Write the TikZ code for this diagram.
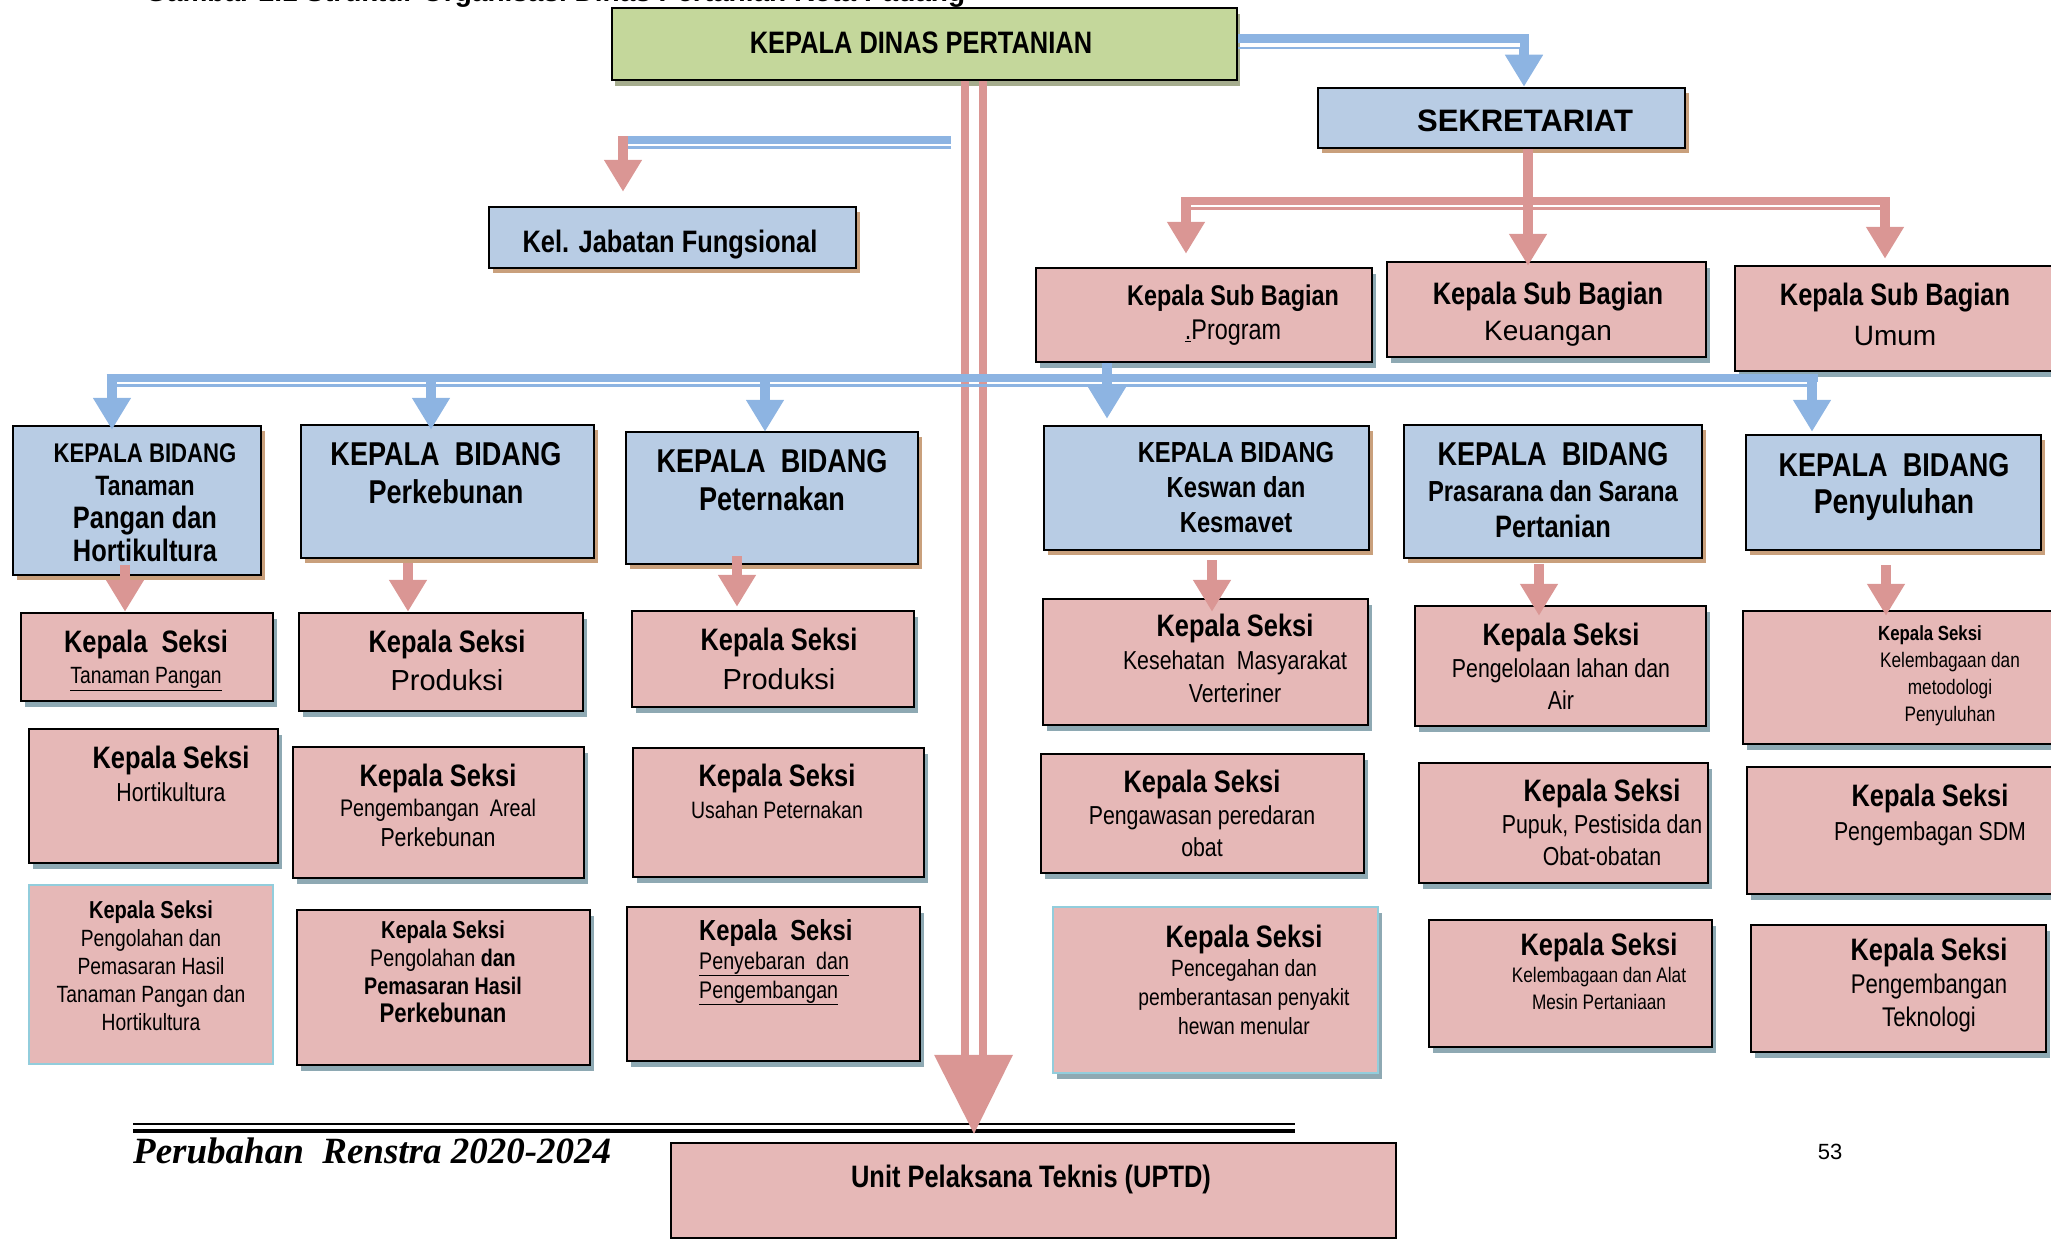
\documentclass[tikz,border=0pt]{standalone}
\usepackage{fontspec}
\setmainfont{Liberation Sans}[FakeStretch=0.82]
\newfontfamily\lebar{Liberation Sans}
\newfontfamily\huruftimes{Liberation Serif}
\usetikzlibrary{arrows.meta,shadows}
\definecolor{hijau}{HTML}{C4D79B}
\definecolor{birumuda}{HTML}{B8CCE4}
\definecolor{merahmuda}{HTML}{E6B8B7}
\definecolor{panahbiru}{HTML}{8DB4E2}
\definecolor{panahmerah}{HTML}{DA9694}
\definecolor{bayanghijau}{HTML}{A5AC8D}
\definecolor{bayangcoklat}{HTML}{C9A07C}
\definecolor{bayangabu}{HTML}{8EA9B3}
\definecolor{garisbiru}{HTML}{92CDDC}
\newcommand{\uk}[2]{\fontsize{#1}{#2}\selectfont}
\begin{document}
\begin{tikzpicture}[x=1pt, y=-1pt,
  ukuran/.style 2 args={minimum width=#1pt, minimum height=#2pt},
  kotak/.style={draw=black, line width=2.5pt, inner sep=0pt},
  kepala/.style={kotak, fill=hijau, drop shadow={shadow xshift=3pt, shadow yshift=-6pt, opacity=1, fill=bayanghijau}},
  bidang/.style={kotak, fill=birumuda, drop shadow={shadow xshift=4pt, shadow yshift=-5pt, opacity=1, fill=bayangcoklat}},
  seksi/.style={kotak, fill=merahmuda, drop shadow={shadow xshift=4pt, shadow yshift=-6pt, opacity=1, fill=bayangabu}},
  teks/.style={anchor=north, align=center, inner sep=0pt},
  tebalB/.style={draw=panahbiru, line width=8pt},
  tipisB/.style={draw=panahbiru, line width=2.5pt},
  tebalM/.style={draw=panahmerah, line width=8pt},
  tipisM/.style={draw=panahmerah, line width=2.5pt},
  panahB/.style={draw=panahbiru, line width=10pt, -{Triangle[width=36pt,length=32pt]}},
  panahM/.style={draw=panahmerah, line width=10pt, -{Triangle[width=36pt,length=32pt]}}]
\useasboundingbox (0,0) rectangle (2051,1239);

\node[anchor=base west, inner sep=0pt] (judul) at (145,1.5) {\lebar\bfseries\uk{28}{28}Gambar 2.1 Struktur Organisasi Dinas Pertanian Kota Padang};

\node[kepala, ukuran={625}{72}] (kd) at (924.5,44) {};
\node[bidang, ukuran={367}{60}] (sek) at (1501.5,118) {};
\node[bidang, ukuran={367}{61}] (kel) at (672.5,237.5) {};
\node[seksi, ukuran={336}{94}] (sbProg) at (1204,315) {};
\node[seksi, ukuran={319}{95}] (sbKeu) at (1546.5,309.5) {};
\node[seksi, ukuran={335}{105}] (sbUmum) at (1902.5,318.5) {};

\node[bidang, ukuran={248}{149}] (kbTan) at (137,500.5) {};
\node[bidang, ukuran={293}{133}] (kbKebun) at (447.5,491.5) {};
\node[bidang, ukuran={292}{132}] (kbTernak) at (772,498) {};
\node[bidang, ukuran={325}{124}] (kbKeswan) at (1206.5,488) {};
\node[bidang, ukuran={298}{133}] (kbPras) at (1553,491.5) {};
\node[bidang, ukuran={295}{115}] (kbSuluh) at (1893.5,492.5) {};

\node[seksi, ukuran={252}{88}] (sTP) at (147,657) {};
\node[seksi, ukuran={249}{134}] (sHort) at (153.5,796) {};
\node[kotak, fill=merahmuda, draw=garisbiru, ukuran={244}{179}] (sOlah) at (151,974.5) {};
\node[seksi, ukuran={284}{98}] (sProdK) at (441,662) {};
\node[seksi, ukuran={291}{131}] (sAreal) at (438.5,812.5) {};
\node[seksi, ukuran={293}{155}] (sOlahK) at (443.5,987.5) {};
\node[seksi, ukuran={282}{96}] (sProdP) at (773,659) {};
\node[seksi, ukuran={291}{129}] (sUsaha) at (778.5,812.5) {};
\node[seksi, ukuran={293}{154}] (sSebar) at (773.5,984) {};
\node[seksi, ukuran={325}{126}] (sSehat) at (1205.5,662) {};
\node[seksi, ukuran={323}{119}] (sAwas) at (1202.5,813.5) {};
\node[seksi, draw=garisbiru, ukuran={325}{166}] (sCegah) at (1215.5,990) {};
\node[seksi, ukuran={291}{120}] (sLahan) at (1560.5,666) {};
\node[seksi, ukuran={289}{120}] (sPupuk) at (1563.5,823) {};
\node[seksi, ukuran={283}{127}] (sAlat) at (1570.5,983.5) {};
\node[seksi, ukuran={317}{133}] (sMetod) at (1901.5,677.5) {};
\node[seksi, ukuran={313}{127}] (sSDM) at (1903.5,830.5) {};
\node[seksi, ukuran={295}{127}] (sTekno) at (1898.5,988.5) {};
\node[kotak, fill=merahmuda, ukuran={725}{95}] (uptd) at (1033.5,1190.5) {};

\node[teks, font=\uk{31}{31}\bfseries] (kd-t) at (921,32) {KEPALA DINAS PERTANIAN};
\node[teks, font=\lebar\uk{31}{31}\bfseries] (sek-t) at (1525,110) {SEKRETARIAT};
\node[teks, font=\uk{31}{31}\bfseries] (kel-t) at (670,230) {Kel. Jabatan Fungsional};
\node[teks, font=\uk{28.5}{34}] (sbProg-t) at (1233,285) {\bfseries Kepala Sub Bagian\\ \mdseries\underline{.}Program};
\node[teks, font=\uk{31}{36}] (sbKeu-t) at (1548,282) {\bfseries Kepala Sub Bagian\\ \lebar\mdseries\uk{28}{36}Keuangan};
\node[teks, font=\uk{31}{40}] (sbUmum-t) at (1895,283) {\bfseries Kepala Sub Bagian\\ \lebar\mdseries\uk{28}{40}Umum};

\node[teks, font=\uk{27}{33}\bfseries] (kbTan-t) at (145,443) {KEPALA BIDANG\\ \bfseries\uk{28}{33}Tanaman\\ \bfseries\uk{31}{33}Pangan dan\\ \bfseries\uk{31}{33}Hortikultura};
\node[teks, font=\uk{33}{38}\bfseries] (kbKebun-t) at (446,442) {KEPALA\ \ BIDANG\\ \bfseries Perkebunan};
\node[teks, font=\uk{33}{38}\bfseries] (kbTernak-t) at (772,449) {KEPALA\ \ BIDANG\\ \bfseries Peternakan};
\node[teks, font=\uk{29}{35}\bfseries] (kbKeswan-t) at (1236,442) {KEPALA BIDANG\\ \bfseries Keswan dan\\ \bfseries Kesmavet};
\node[teks, font=\uk{33}{36}\bfseries] (kbPras-t) at (1553,442) {KEPALA\ \ BIDANG\\ \bfseries\uk{29}{36}Prasarana dan Sarana\\ \bfseries\uk{31}{36}Pertanian};
\node[teks, font=\uk{33}{37}\bfseries] (kbSuluh-t) at (1894,453) {KEPALA\ \ BIDANG\\ \bfseries\uk{34.5}{37}Penyuluhan};

\node[teks, font=\uk{31}{31}] (sTP-t) at (146,630) {\bfseries Kepala\ \ Seksi\\ \mdseries\uk{23.5}{31}\underline{Tanaman Pangan}};
\node[teks, font=\uk{31}{33}] (sHort-t) at (171,746) {\bfseries Kepala Seksi\\ \mdseries\uk{26}{33}Hortikultura};
\node[teks, font=\uk{24.5}{28}] (sOlah-t) at (151,901) {\bfseries Kepala Seksi\\ \mdseries\uk{23.5}{28}Pengolahan dan\\ \mdseries\uk{23.5}{28}Pemasaran Hasil\\ \mdseries\uk{23.5}{28}Tanaman Pangan dan\\ \mdseries\uk{23.5}{28}Hortikultura};
\node[teks, font=\uk{31}{38}] (sProdK-t) at (447,630) {\bfseries Kepala Seksi\\ \lebar\mdseries\uk{29}{38}Produksi};
\node[teks, font=\uk{31}{30}] (sAreal-t) at (438,764) {\bfseries Kepala Seksi\\ \mdseries\uk{24}{30}Pengembangan\ \ Areal\\ \mdseries\uk{26}{30}Perkebunan};
\node[teks, font=\uk{24.5}{28}] (sOlahK-t) at (443,921) {\bfseries Kepala Seksi\\ \mdseries\uk{24}{28}Pengolahan \bfseries dan\\ \bfseries\uk{24}{28}Pemasaran Hasil\\ \bfseries\uk{27}{28}Perkebunan};
\node[teks, font=\uk{31}{39}] (sProdP-t) at (779,628) {\bfseries Kepala Seksi\\ \lebar\mdseries\uk{29}{39}Produksi};
\node[teks, font=\uk{31}{32}] (sUsaha-t) at (777,764) {\bfseries Kepala Seksi\\ \mdseries\uk{23.7}{32}Usahan Peternakan};
\node[teks, anchor=north west, align=left, font=\uk{29}{29}] (sSebar-t) at (699,919) {\bfseries Kepala\ \ Seksi\\ \mdseries\uk{24}{29}\underline{Penyebaran\ \ dan}\\ \mdseries\uk{24}{29}\underline{Pengembangan}};
\node[teks, font=\uk{31}{33}] (sSehat-t) at (1235,614) {\bfseries Kepala Seksi\\ \mdseries\uk{26}{33}Kesehatan\ \ Masyarakat\\ \mdseries\uk{26}{33}Verteriner};
\node[teks, font=\uk{31}{32}] (sAwas-t) at (1202,770) {\bfseries Kepala Seksi\\ \mdseries\uk{26}{32}Pengawasan peredaran\\ \mdseries\uk{26}{32}obat};
\node[teks, font=\uk{31}{29}] (sCegah-t) at (1244,925) {\bfseries Kepala Seksi\\ \mdseries\uk{23.5}{29}Pencegahan dan\\ \mdseries\uk{23.5}{29}pemberantasan penyakit\\ \mdseries\uk{23.5}{29}hewan menular};
\node[teks, font=\uk{31}{32}] (sLahan-t) at (1561,623) {\bfseries Kepala Seksi\\ \mdseries\uk{26}{32}Pengelolaan lahan dan\\ \mdseries\uk{26}{32}Air};
\node[teks, font=\uk{31}{32}] (sPupuk-t) at (1602,779) {\bfseries Kepala Seksi\\ \mdseries\uk{26}{32}Pupuk, Pestisida dan\\ \mdseries\uk{26}{32}Obat-obatan};
\node[teks, font=\uk{31}{27}] (sAlat-t) at (1599,933) {\bfseries Kepala Seksi\\ \mdseries\uk{21}{27}Kelembagaan dan Alat\\ \mdseries\uk{21}{27}Mesin Pertaniaan};
\node[teks, font=\uk{20.5}{27}] (sMetod-t) at (1950,625) {\bfseries Kepala Seksi\hspace*{40pt}\\ \mdseries\uk{21}{27}Kelembagaan dan\\ \mdseries\uk{21}{27}metodologi\\ \mdseries\uk{21}{27}Penyuluhan};
\node[teks, font=\uk{31}{34}] (sSDM-t) at (1930,784) {\bfseries Kepala Seksi\\ \mdseries\uk{26}{34}Pengembagan SDM};
\node[teks, font=\uk{31}{33}] (sTekno-t) at (1929,938) {\bfseries Kepala Seksi\\ \mdseries\uk{27}{33}Pengembangan\\ \mdseries\uk{27}{33}Teknologi};
\node[teks, font=\uk{31}{31}\bfseries] (uptd-t) at (1031,1165) {Unit Pelaksana Teknis (UPTD)};

\draw[line width=2pt] (133,1124) -- (1295,1124);
\draw[line width=4.5pt] (133,1131) -- (1295,1131);
\node[anchor=base west, inner sep=0pt] (kaki) at (133,1163) {\huruftimes\bfseries\itshape\uk{37}{37}Perubahan\ \ Renstra 2020-2024};
\node[anchor=base, inner sep=0pt] (hal) at (1830,1159) {\lebar\uk{22}{22}53};

\draw[tipisB] ([yshift=-4pt]kd.east) -| ([xshift=19pt,yshift=30pt]sek.north);
\draw[panahB, line width=9pt] ([yshift=5pt]kd.east) -| ([xshift=22.5pt]sek.north);

\draw[panahmerah, line width=8pt] ([xshift=40.5pt]kd.south) -- ([xshift=-68.5pt,yshift=87pt]uptd.north);
\draw[panahmerah, line width=8pt] ([xshift=58.5pt]kd.south) -- ([xshift=-50.5pt,yshift=87pt]uptd.north);
\fill[panahmerah] ([xshift=-99.5pt,yshift=87pt]uptd.north) -- ([xshift=-20.5pt,yshift=87pt]uptd.north) -- ([xshift=-59.5pt,yshift=8pt]uptd.north) -- cycle;

\coordinate (cabang) at (951,140);
\coordinate (siku) at (623,140);
\draw[tebalB] (cabang) -- ([xshift=5pt]siku);
\draw[tipisB] ([yshift=-7.5pt]cabang) -- ([xshift=5pt,yshift=-7.5pt]siku);
\draw[panahM] ([yshift=4pt]siku) -- ([xshift=-49.5pt,yshift=14pt]kel.north);

\coordinate (sbKiri) at (1186,201);
\coordinate (sbKanan) at (1885,201);
\draw[tebalM] ([xshift=-5pt]sbKiri) -- ([xshift=5pt]sbKanan);
\draw[tipisM] ([xshift=5pt,yshift=-7.5pt]sbKiri) -- ([xshift=-5pt,yshift=-7.5pt]sbKanan);
\draw[panahM] (sbKiri) -- ([xshift=-18pt,yshift=13pt]sbProg.north);
\draw[panahM] (sbKanan) -- ([xshift=-17.5pt,yshift=6pt]sbUmum.north);
\draw[panahM] ([xshift=26.5pt]sek.south) -- ([xshift=-18.5pt,yshift=-5pt]sbKeu.north);

\coordinate (b1) at (112,378);
\coordinate (b2) at (431,378);
\coordinate (b3) at (765,378);
\coordinate (b5) at (1812,378);
\draw[tebalB] ([xshift=-5.5pt]b1) -- ([xshift=6pt]b5);
\draw[tipisB] ([xshift=5pt,yshift=-7.5pt]b1) -- ([xshift=-5pt,yshift=-7.5pt]b5);
\draw[panahB] (b1) -- ([xshift=-25pt,yshift=-5pt]kbTan.north);
\draw[panahB] (b2) -- ([xshift=-16.5pt,yshift=-6pt]kbKebun.north);
\draw[panahB] (b3) -- ([xshift=-7pt,yshift=-1pt]kbTernak.north);
\draw[panahB] ([xshift=-97pt]sbProg.south) -- ([xshift=-99.5pt,yshift=6pt]kbKeswan.north);
\draw[panahB] (b5) -- ([xshift=-81.5pt,yshift=2pt]kbSuluh.north);

\draw[panahM] ([xshift=-12pt,yshift=11pt]kbTan.south) -- ([xshift=-22pt]sTP.north);
\draw[panahM] ([xshift=-39.5pt,yshift=-4pt]kbKebun.south) -- ([xshift=-33pt]sProdK.north);
\draw[panahM] ([xshift=-35pt,yshift=9pt]kbTernak.south) -- ([xshift=-36pt,yshift=3pt]sProdP.north);
\draw[panahM] ([xshift=5.5pt,yshift=-9pt]kbKeswan.south) -- ([xshift=6.5pt,yshift=-14pt]sSehat.north);
\draw[panahM] ([xshift=-14pt,yshift=-5pt]kbPras.south) -- ([xshift=-21.5pt,yshift=-11pt]sLahan.north);
\draw[panahM] ([xshift=-7.5pt,yshift=-14pt]kbSuluh.south) -- ([xshift=-15.5pt,yshift=-6pt]sMetod.north);
\end{tikzpicture}
\end{document}
